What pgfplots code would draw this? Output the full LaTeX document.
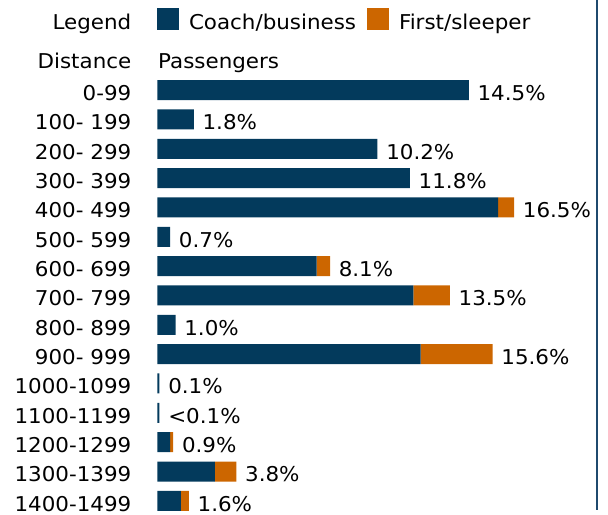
\documentclass[border=0pt]{standalone}
\usepackage{fontspec}
\setmainfont{DejaVu Sans}[FakeStretch=1.05]
\usepackage{pgfplots}
\usepackage{pgfplotstable}
\pgfplotsset{compat=1.18}
\definecolor{coach}{HTML}{033A5C}
\definecolor{first}{HTML}{CC6600}
\definecolor{frameblue}{HTML}{1F4A6E}

\pgfplotstableread{
idx coach first total label
0 14.5 0 14.5 14.5
1 1.7 0 1.7 1.8
2 10.25 0 10.25 10.2
3 11.76 0 11.76 11.8
4 15.87 0.74 16.61 16.5
5 0.6 0 0.6 0.7
6 7.42 0.62 8.04 8.1
7 11.92 1.7 13.62 13.5
8 0.85 0 0.85 1.0
9 12.26 3.35 15.61 15.6
10 0.1 0 0.1 0.1
11 0.1 0 0.1 <0.1
12 0.6 0.14 0.74 0.9
13 2.68 1.0 3.68 3.8
14 1.1 0.37 1.47 1.6
}\data

\pgfplotsset{chartframe/.style={
  at={(78.65pt,-0.75pt)}, anchor=south west,
  scale only axis, width=214.8pt, height=220.05pt,
  xmin=0, xmax=20, ymin=-0.5, ymax=14.5, y dir=reverse,
  enlargelimits=false, clip=false,
  axis line style={draw=none}, tick style={draw=none},
  xtick=\empty,
}}

\begin{document}
\begin{tikzpicture}[font=\fontsize{10.2}{12}\selectfont]
\begin{axis}[chartframe,
  xbar stacked, bar width=10pt,
  ytick={0,...,14},
  yticklabels={0-99,100- 199,200- 299,300- 399,400- 499,500- 599,600- 699,700- 799,800- 899,900- 999,1000-1099,1100-1199,1200-1299,1300-1399,1400-1499},
  yticklabel style={anchor=base east, inner sep=0pt, xshift=-12.8pt, yshift=-5.15pt, font=\fontsize{10.2}{12}\selectfont},
]
\addplot[fill=coach, draw=none] table[x=coach, y=idx] {\data};
\addplot[fill=first, draw=none] table[x=first, y=idx] {\data};
\end{axis}
\begin{axis}[chartframe, ytick=\empty]
\addplot[draw=none, mark=none, point meta=explicit symbolic,
  nodes near coords={\pgfplotspointmeta\%},
  every node near coord/.style={anchor=base west, inner sep=0pt, xshift=4.2pt, yshift=-5.15pt, text=black, font=\fontsize{10.2}{12}\selectfont}]
  table[x=total, y=idx, meta=label] {\data};
\end{axis}
\pgfresetboundingbox
\useasboundingbox (0,0) rectangle (304pt,257pt);
\fill[coach] (78.65pt,242pt) rectangle (89.5pt,252.85pt);
\node[anchor=base east, inner sep=0pt] at (65.85pt,242.35pt) {Legend};
\node[anchor=base west, inner sep=0pt] at (94.3pt,242.35pt) {Coach/business};
\fill[first] (183.35pt,242pt) rectangle (194.5pt,252.85pt);
\node[anchor=base west, inner sep=0pt] at (199.3pt,242.35pt) {First/sleeper};
\node[anchor=base east, inner sep=0pt] at (65.85pt,222.5pt) {Distance};
\node[anchor=base west, inner sep=0pt] at (78.9pt,222.5pt) {Passengers};
\draw[frameblue, line width=1pt] (298.25pt,257pt) -- (298.25pt,2pt);
\end{tikzpicture}
\end{document}
